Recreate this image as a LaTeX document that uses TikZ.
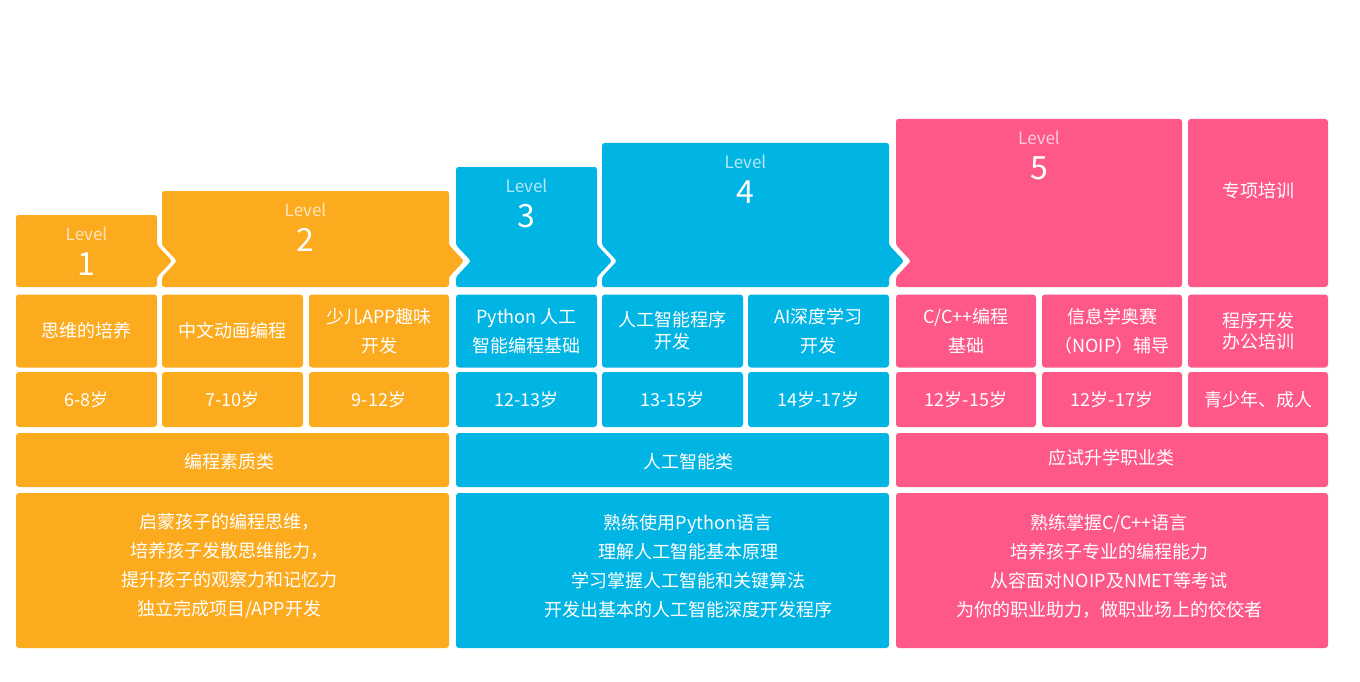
\documentclass[tikz,border=0pt]{standalone}
\usepackage{fontspec}
\setmainfont{Noto Sans CJK SC}
\usetikzlibrary{positioning}
\definecolor{OR}{RGB}{252,170,30}
\definecolor{BL}{RGB}{0,181,228}
\definecolor{PK}{RGB}{254,88,136}

\begin{document}
\begin{tikzpicture}[x=1pt, y=-1pt,
  cell/.style={fill=#1, rounded corners=3pt, inner sep=0pt, text=white,
               align=center, font=\fontsize{18}{29}\selectfont},
  lvl/.style={text=white, text opacity=0.7, font=\fontsize{17}{20}\selectfont},
  lvlnum/.style={text=white, font=\fontsize{32}{36}\selectfont},
  txt/.style={text=white, align=center, font=\fontsize{18}{29}\selectfont}
]
\useasboundingbox (0,0) rectangle (1360,682);

% Level boxes with chevron joints
\foreach \nm/\xl/\xr/\yt/\col/\nl/\tp/\lv in {lv1/16/157/215/OR/0/15/1,
    lv2/162/449/191/OR/15/15/2, lv3/456/597/167/BL/15/15/3,
    lv4/602/889/143/BL/15/15/4, lv5/896/1182/119/PK/15/0/5}{
  \fill[\col, rounded corners=2.5pt] (\xl,\yt) -- (\xr,\yt) -- (\xr,245)
    -- (\xr+\tp,261) -- (\xr,277) -- (\xr,287) -- (\xl,287) -- (\xl,277)
    -- (\xl+\nl,261) -- (\xl,245) -- cycle;
  \node[lvl] (\nm-t) at ({(\xl+\xr)/2}, \yt+19) {Level};
  \node[lvlnum] (\nm-n) at ({(\xl+\xr)/2}, \yt+49) {\lv};
}
% special training box
\node[cell=PK, minimum width=140pt, minimum height=168pt] (sp) at (1258,203) {};
\node[txt] (sp-t) at (1258,191) {专项培训};

% Course names
\foreach \nm/\xl/\xr/\col/\txt in {c1/16/157/OR/思维的培养,
    c2/162/303/OR/中文动画编程, c3/309/449/OR/少儿APP趣味\\开发,
    c4/456/597/BL/Python 人工\\智能编程基础, c5/602/743/BL/人工智能程序\\[-7pt]开发,
    c6/748/889/BL/AI深度学习\\开发, c7/896/1036/PK/{C/C++编程\\基础},
    c8/1042/1182/PK/信息学奥赛\\（NOIP）辅导, c9/1188/1328/PK/程序开发\\[-8pt]办公培训}{
  \node[cell=\col, minimum width={(\xr-\xl)*1pt}, minimum height=73pt]
    (\nm) at ({(\xl+\xr)/2}, 331) {\txt};
}

% Ages
\foreach \nm/\xl/\xr/\col/\txt in {a1/16/157/OR/6-8岁, a2/162/303/OR/7-10岁,
    a3/309/449/OR/9-12岁, a4/456/597/BL/12-13岁, a5/602/743/BL/13-15岁,
    a6/748/889/BL/14岁-17岁, a7/896/1036/PK/12岁-15岁, a8/1042/1182/PK/12岁-17岁,
    a9/1188/1328/PK/青少年、成人}{
  \node[cell=\col, minimum width={(\xr-\xl)*1pt}, minimum height=55pt]
    (\nm) at ({(\xl+\xr)/2}, 399.5) {\txt};
}

% Categories
\foreach \nm/\xl/\xr/\col in {k1/16/449/OR, k2/456/889/BL, k3/896/1328/PK}{
  \node[cell=\col, minimum width={(\xr-\xl)*1pt}, minimum height=54pt]
    (\nm) at ({(\xl+\xr)/2}, 460) {};
  \node[cell=\col, minimum width={(\xr-\xl)*1pt}, minimum height=155pt]
    (d\nm) at ({(\xl+\xr)/2}, 570.5) {};
}
\node[txt] (k1-t) at (229,462) {编程素质类};
\node[txt] (k2-t) at (688,462) {人工智能类};
\node[txt] (k3-t) at (1111,458) {应试升学职业类};

% Descriptions
\node[txt] (dk1-t) at (229,566)
  {启蒙孩子的编程思维，\\培养孩子发散思维能力，\\提升孩子的观察力和记忆力\\独立完成项目/APP开发};
\node[txt] (dk2-t) at (688,566)
  {熟练使用Python语言\\理解人工智能基本原理\\学习掌握人工智能和关键算法\\开发出基本的人工智能深度开发程序};
\node[txt] (dk3-t) at (1109,566)
  {熟练掌握C/C++语言\\培养孩子专业的编程能力\\从容面对NOIP及NMET等考试\\为你的职业助力，做职业场上的佼佼者};
\end{tikzpicture}
\end{document}
